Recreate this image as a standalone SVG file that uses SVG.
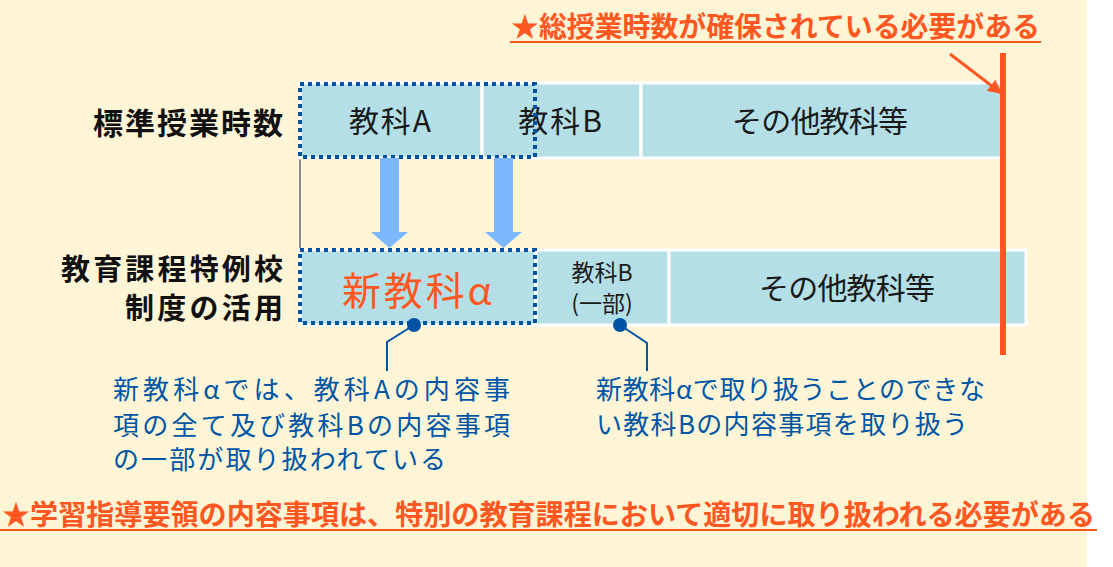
<svg xmlns="http://www.w3.org/2000/svg" width="1113" height="567" viewBox="0 0 1113 567">
<defs>
<style>
text{font-family:"Noto Sans CJK JP","Noto Sans",sans-serif;}
.lbl{font-size:30px;font-weight:bold;fill:#111;text-anchor:end;}
.cell{fill:#B4DFE7;stroke:#FFFFFF;stroke-width:3;}
.ct{font-size:30px;fill:#1a1a1a;text-anchor:middle;}
.sm{font-size:23px;fill:#1a1a1a;text-anchor:middle;}
.dot{fill:none;stroke:#0052A4;stroke-width:4;stroke-dasharray:4 4;}
.note{font-size:26px;fill:#0055A5;}
.red{font-size:28px;font-weight:bold;fill:#FF5722;}
.blk{fill:#7CB8FF;}
.lead{fill:none;stroke:#0052A4;stroke-width:2;}
</style>
<marker id="ah" viewBox="0 0 10 10" refX="9" refY="5" markerWidth="17" markerHeight="14" markerUnits="userSpaceOnUse" orient="auto"><path d="M0,0 L10,5 L0,10 z" fill="#FF5722"/></marker>
</defs>
<rect x="0" y="0" width="1113" height="567" fill="#FFFFFF"/>
<rect x="0" y="0" width="1087" height="567" fill="#FEF5D6"/>

<g id="label-standard"><text class="lbl" x="283" y="134" textLength="190" lengthAdjust="spacing">標準授業時数</text></g>
<g id="label-special"><text class="lbl" style="font-size:29px"><tspan x="283" y="280" textLength="222" lengthAdjust="spacing">教育課程特例校</tspan><tspan x="283" y="319" textLength="158" lengthAdjust="spacing">制度の活用</tspan></text></g>

<line x1="300" y1="84" x2="300" y2="325" stroke="#8A8A8A" stroke-width="2"/>

<g id="top-row">
<rect class="cell" x="300" y="83" width="182" height="75"/>
<rect class="cell" x="482" y="83" width="159" height="75"/>
<rect class="cell" x="641" y="83" width="362" height="75"/>
<text class="ct" x="391" y="132" letter-spacing="2">教科A</text>
<text class="ct" x="561" y="132" letter-spacing="2">教科B</text>
<text class="ct" x="820" y="132" textLength="176" lengthAdjust="spacing">その他教科等</text>
</g>

<g id="bottom-row">
<rect class="cell" x="300" y="250" width="236" height="75"/>
<rect class="cell" x="536" y="250" width="133" height="75"/>
<rect class="cell" x="669" y="250" width="357" height="75"/>
<text x="417" y="305" text-anchor="middle" font-size="39" fill="#FF5722" textLength="150" lengthAdjust="spacing">新教科α</text>
<text class="sm"><tspan x="602" y="281">教科B</tspan><tspan x="602" y="312">(一部)</tspan></text>
<text class="ct" x="847" y="299" textLength="176" lengthAdjust="spacing">その他教科等</text>
</g>

<g id="dotted-frames">
<rect class="dot" x="300" y="84" width="235" height="73"/>
<rect class="dot" x="300" y="250" width="235" height="73"/>
</g>

<g id="connectors">
<path class="blk" d="M380,158 L399,158 L399,232 L408,232 L389.5,248 L371,232 L380,232 z"/>
<path class="blk" d="M494,158 L513,158 L513,232 L522,232 L503.5,248 L485,232 L494,232 z"/>
<line x1="1003" y1="53" x2="1003" y2="355" stroke="#FF5722" stroke-width="6"/>
<line x1="950" y1="54" x2="1001" y2="93" stroke="#FF5722" stroke-width="3" marker-end="url(#ah)"/>
<circle cx="414" cy="325" r="7" fill="#0052A4"/>
<polyline class="lead" points="414,325 387,342 387,371"/>
<circle cx="620" cy="325" r="7" fill="#0052A4"/>
<polyline class="lead" points="620,325 647,343 647,371"/>
</g>

<g id="note-left">
<text class="note"><tspan x="113" y="399" textLength="397" lengthAdjust="spacing">新教科αでは、教科Aの内容事</tspan><tspan x="113" y="435" textLength="397" lengthAdjust="spacing">項の全て及び教科Bの内容事項</tspan><tspan x="113" y="469" textLength="333" lengthAdjust="spacing">の一部が取り扱われている</tspan></text>
</g>
<g id="note-right">
<text class="note"><tspan x="596" y="399" textLength="389" lengthAdjust="spacing">新教科αで取り扱うことのできな</tspan><tspan x="596" y="434" textLength="372" lengthAdjust="spacing">い教科Bの内容事項を取り扱う</tspan></text>
</g>

<g id="note-top">
<text class="red" x="511" y="37" textLength="529" lengthAdjust="spacingAndGlyphs">★総授業時数が確保されている必要がある</text>
<line x1="510" y1="42" x2="1041" y2="42" stroke="#FF5722" stroke-width="2"/>
</g>
<g id="note-bottom">
<text class="red" x="2" y="525" textLength="1093" lengthAdjust="spacingAndGlyphs">★学習指導要領の内容事項は、特別の教育課程において適切に取り扱われる必要がある</text>
<line x1="0" y1="530" x2="1097" y2="530" stroke="#FF5722" stroke-width="2"/>
</g>
</svg>
